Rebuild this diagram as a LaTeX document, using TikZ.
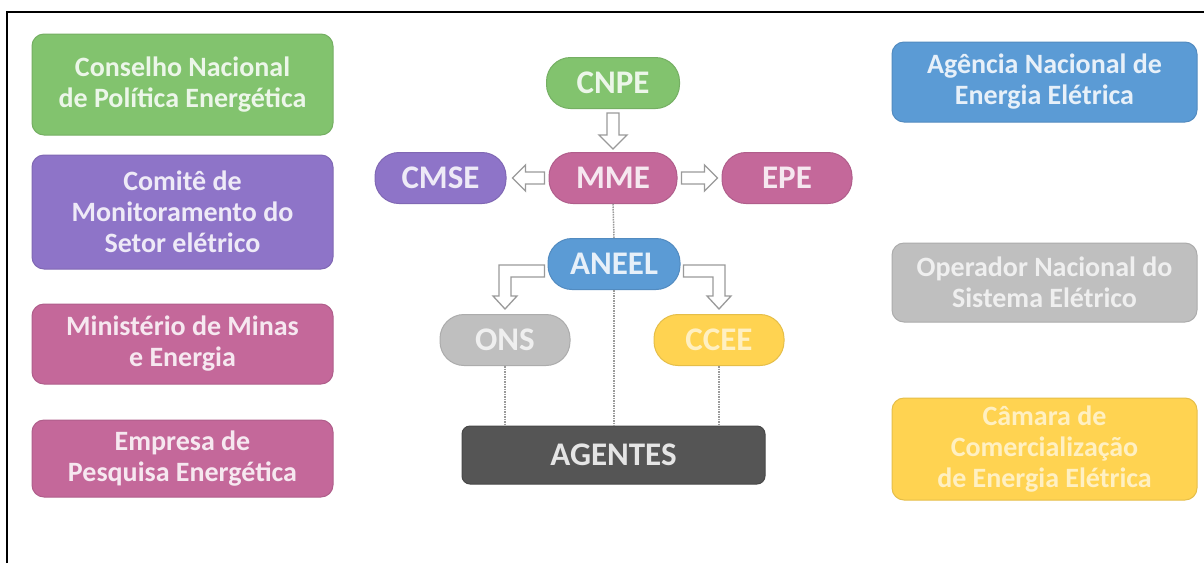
\documentclass[tikz,border=0pt]{standalone}
\usepackage{fontspec}
\setmainfont{Carlito}
\usetikzlibrary{calc}
\definecolor{cgreen}{HTML}{82C36E}
\definecolor{cpurple}{HTML}{8E74C8}
\definecolor{cpink}{HTML}{C4689A}
\definecolor{cblue}{HTML}{5B9BD5}
\definecolor{cgray}{HTML}{BFBFBF}
\definecolor{cyellow}{HTML}{FFD351}
\definecolor{cdark}{HTML}{555555}
\definecolor{arrowgray}{HTML}{9A9A9A}
\tikzset{
  infobox/.style={draw=#1!90!black, fill=#1, line width=1pt, rounded corners=12pt,
    minimum width=301pt, inner sep=0pt, align=center, text=white!85!#1,
    font=\fontsize{28}{31}\selectfont\bfseries},
  pill/.style={draw=#1!90!black, fill=#1, line width=1pt, rounded corners=24pt,
    minimum width=130pt, minimum height=51pt, inner sep=0pt, text=white!85!#1,
    font=\fontsize{33}{36}\selectfont\bfseries},
  blk/.style={draw=arrowgray, fill=white, line width=1.3pt, line join=miter},
  dots/.style={draw=arrowgray, densely dotted, line width=1.5pt}
}
\newcommand\blkdown[2]{%
  \draw[blk] let \p1=#1, \p2=#2 in
  ({\x1-6pt},{\y1-4pt}) -- ({\x1+6pt},{\y1-4pt}) -- ({\x1+6pt},{\y2+17pt}) --
  ({\x1+14pt},{\y2+17pt}) -- (\x1,{\y2+3pt}) -- ({\x1-14pt},{\y2+17pt}) --
  ({\x1-6pt},{\y2+17pt}) -- cycle;}
\newcommand\blkleft[2]{%
  \draw[blk] let \p1=#1, \p2=#2 in
  ({\x1-4pt},{\y1+6pt}) -- ({\x1-4pt},{\y1-6pt}) -- ({\x2+19pt},{\y1-6pt}) --
  ({\x2+19pt},{\y1-13pt}) -- ({\x2+6pt},\y1) -- ({\x2+19pt},{\y1+13pt}) --
  ({\x2+19pt},{\y1+6pt}) -- cycle;}
\newcommand\blkright[2]{%
  \draw[blk] let \p1=#1, \p2=#2 in
  ({\x1+4pt},{\y1+6pt}) -- ({\x1+4pt},{\y1-6pt}) -- ({\x2-17pt},{\y1-6pt}) --
  ({\x2-17pt},{\y1-13pt}) -- ({\x2-4pt},\y1) -- ({\x2-17pt},{\y1+13pt}) --
  ({\x2-17pt},{\y1+6pt}) -- cycle;}
% elbow: #1 start anchor (west/east of source), #2 north of target, #3 sign (-1 left, 1 right)
\newcommand\blkelbow[3]{%
  \draw[blk] let \p1=#1, \p2=#2, \n1={#3} in
  ({\x1+\n1*3pt},{\y1-1pt}) -- ({\x2+\n1*6pt},{\y1-1pt}) -- ({\x2+\n1*6pt},{\y2+18pt}) --
  ({\x2+\n1*12pt},{\y2+18pt}) -- (\x2,{\y2+5pt}) -- ({\x2-\n1*12pt},{\y2+18pt}) --
  ({\x2-\n1*6pt},{\y2+18pt}) -- ({\x2-\n1*6pt},{\y1-13pt}) -- ({\x1+\n1*3pt},{\y1-13pt}) -- cycle;}
\begin{document}
\begin{tikzpicture}[x=1pt,y=-1pt]
\useasboundingbox (0,0) rectangle (1204,563);
\fill[white] (0,0) rectangle (1204,563);
\draw[line width=2pt] (7,563) -- (7,12) -- (1204,12);
% left column
\node[infobox=cgreen, minimum height=101pt] (l1) at (182.5,84.5) {Conselho Nacional\\de Política Energética};
\node[infobox=cpurple, minimum height=114pt] (l2) at (182.5,212) {Comitê de\\Monitoramento do\\Setor elétrico};
\node[infobox=cpink, minimum height=80pt] (l3) at (182.5,344) {Ministério de Minas\\e Energia};
\node[infobox=cpink, minimum height=77pt] (l4) at (182.5,458.5) {Empresa de\\Pesquisa Energética};
% right column
\node[infobox=cblue, minimum width=305pt, minimum height=80pt] (r1) at (1044.5,82) {Agência Nacional de\\Energia Elétrica};
\node[infobox=cgray, minimum width=305pt, minimum height=79pt, text=white!75!cgray] (r2) at (1044.5,282.5) {Operador Nacional do\\Sistema Elétrico};
\node[infobox=cyellow, minimum width=305pt, minimum height=102pt, text=white!65!cyellow] (r3) at (1044.5,449) {Câmara de\\Comercialização\\de Energia Elétrica};
% center
\node[pill=cgreen, minimum width=133pt] (cnpe) at (613,83) {CNPE};
\node[pill=cpink, minimum width=128pt] (mme) at (613,178) {MME};
\node[pill=cpurple, minimum width=131pt] (cmse) at (440.5,178) {CMSE};
\node[pill=cpink, minimum width=130pt] (epe) at (787,178) {EPE};
\node[pill=cblue, minimum width=132pt] (aneel) at (614,264) {ANEEL};
\node[pill=cgray, minimum width=130pt, text=white!75!cgray] (ons) at (505,340) {ONS};
\node[pill=cyellow, minimum width=130pt, text=white!65!cyellow] (ccee) at (719,340) {CCEE};
\node[draw=cdark!85!black, fill=cdark, line width=1pt, rounded corners=8pt, minimum width=303pt,
  minimum height=58pt, inner sep=0pt, text=white!90!black, font=\fontsize{33}{36}\selectfont\bfseries]
  (agentes) at (613.5,455) {AGENTES};
% dotted links
\draw[dots] (mme.south) -- (aneel.north);
\draw[dots] (aneel.south) -- (aneel.south |- agentes.north);
\draw[dots] (ons.south) -- (ons.south |- agentes.north);
\draw[dots] (ccee.south) -- (ccee.south |- agentes.north);
% block arrows
\blkdown{(cnpe.south)}{(mme.north)}
\blkleft{(mme.west)}{(cmse.east)}
\blkright{(mme.east)}{(epe.west)}
\blkelbow{(aneel.west)}{(ons.north)}{-1}
\blkelbow{(aneel.east)}{(ccee.north)}{1}
\end{tikzpicture}
\end{document}
